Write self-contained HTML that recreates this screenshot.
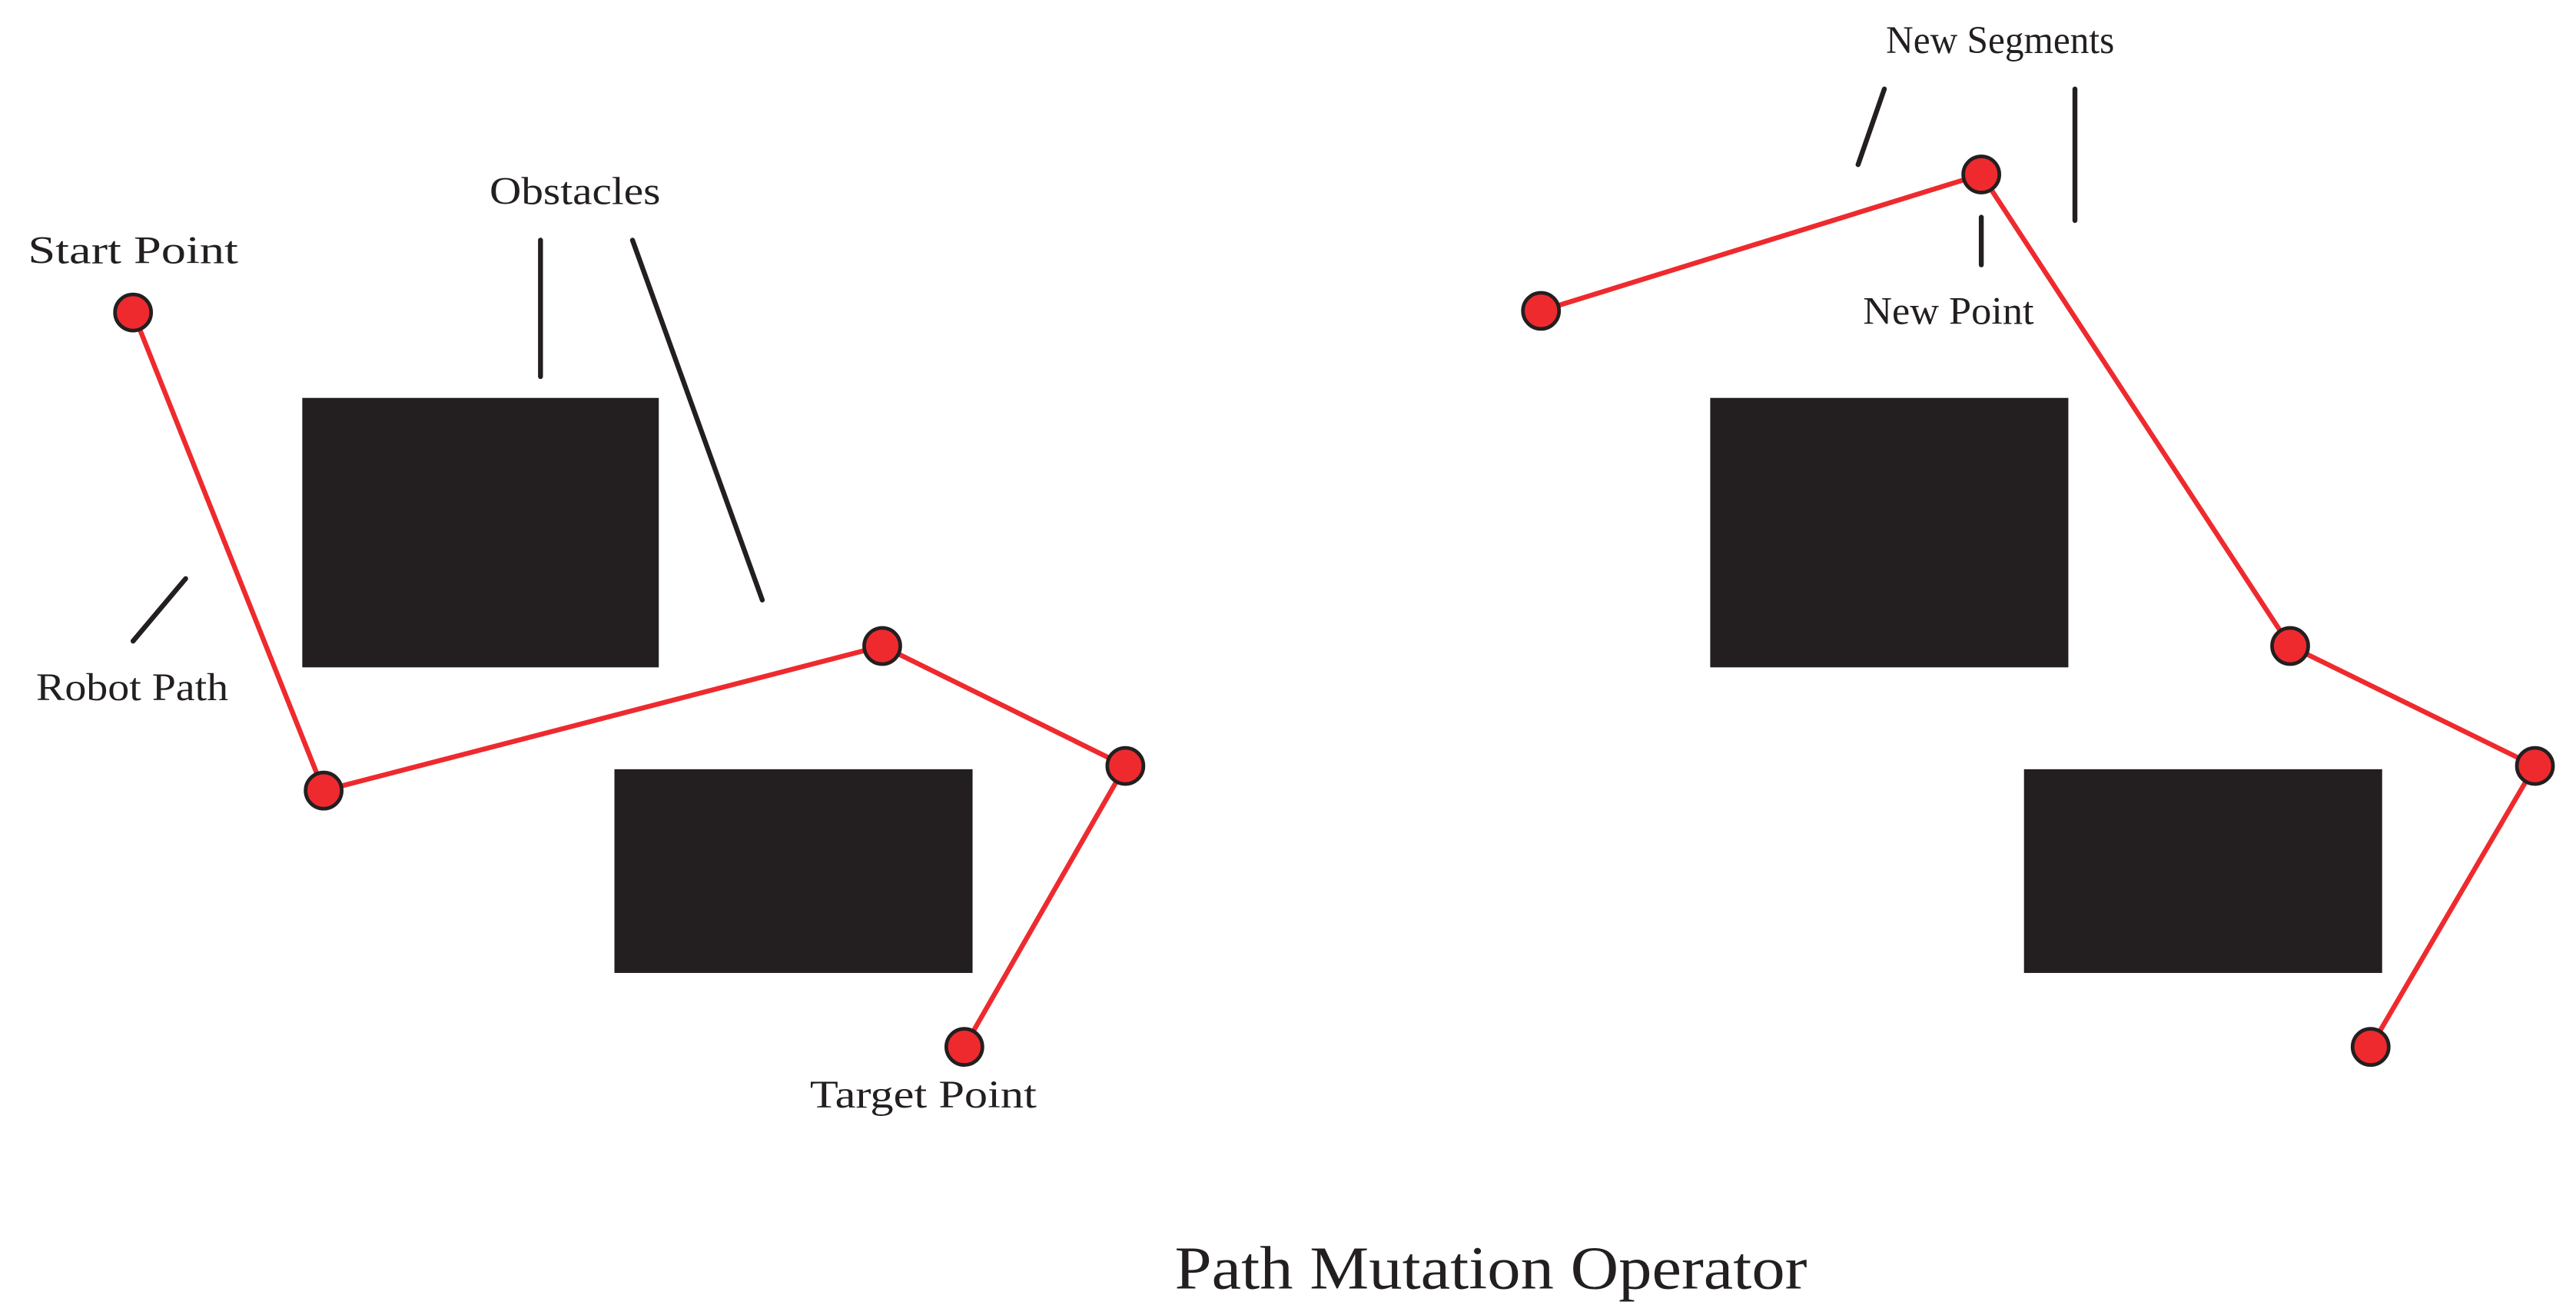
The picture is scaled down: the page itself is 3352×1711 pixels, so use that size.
<!DOCTYPE html>
<html><head><meta charset="utf-8"><style>html,body{margin:0;padding:0;background:#fff}svg{display:block}</style></head>
<body>
<svg width="3352" height="1711" viewBox="0 0 1568 800" xmlns="http://www.w3.org/2000/svg">
<rect width="1568" height="800" fill="#fff"/>
<g fill="#231f20">
<rect x="184" y="242" width="217" height="164"/>
<rect x="374" y="468" width="218" height="124"/>
<rect x="1041" y="242" width="218" height="164"/>
<rect x="1232" y="468" width="218" height="124"/>
</g>
<g stroke="#231f20" stroke-width="3" stroke-linecap="round">
<line x1="329" y1="146" x2="329" y2="229"/>
<line x1="385" y1="146" x2="464" y2="365"/>
<line x1="113" y1="352" x2="81" y2="390"/>
<line x1="1147" y1="54" x2="1131" y2="100"/>
<line x1="1263" y1="54" x2="1263" y2="134"/>
<line x1="1206" y1="132" x2="1206" y2="161"/>
</g>
<g fill="none" stroke="#ee2a2e" stroke-width="3">
<polyline points="81,190 197,481 537,393 685,466 587,637"/>
<polyline points="938,189 1206,106 1394,393 1543,466 1443,637"/>
</g>
<g fill="#ee2a2e" stroke="#231f20" stroke-width="2.2">
<circle cx="81" cy="190" r="11"/><circle cx="197" cy="481" r="11"/><circle cx="537" cy="393" r="11"/><circle cx="685" cy="466" r="11"/><circle cx="587" cy="637" r="11"/>
<circle cx="938" cy="189" r="11"/><circle cx="1206" cy="106" r="11"/><circle cx="1394" cy="393" r="11"/><circle cx="1543" cy="466" r="11"/><circle cx="1443" cy="637" r="11"/>
</g>
<g font-family="'Liberation Serif', serif" font-size="24" fill="#231f20">
<text x="17" y="160" textLength="128" lengthAdjust="spacingAndGlyphs">Start Point</text>
<text x="298" y="124" textLength="104" lengthAdjust="spacingAndGlyphs">Obstacles</text>
<text x="22" y="426" textLength="117" lengthAdjust="spacingAndGlyphs">Robot Path</text>
<text x="493" y="674" textLength="138" lengthAdjust="spacingAndGlyphs">Target Point</text>
<text x="1148" y="32" textLength="139" lengthAdjust="spacingAndGlyphs">New Segments</text>
<text x="1134" y="197" textLength="104" lengthAdjust="spacingAndGlyphs">New Point</text>
<text x="715" y="784" font-size="37" textLength="385" lengthAdjust="spacingAndGlyphs">Path Mutation Operator</text>
</g>
</svg>
</body></html>
